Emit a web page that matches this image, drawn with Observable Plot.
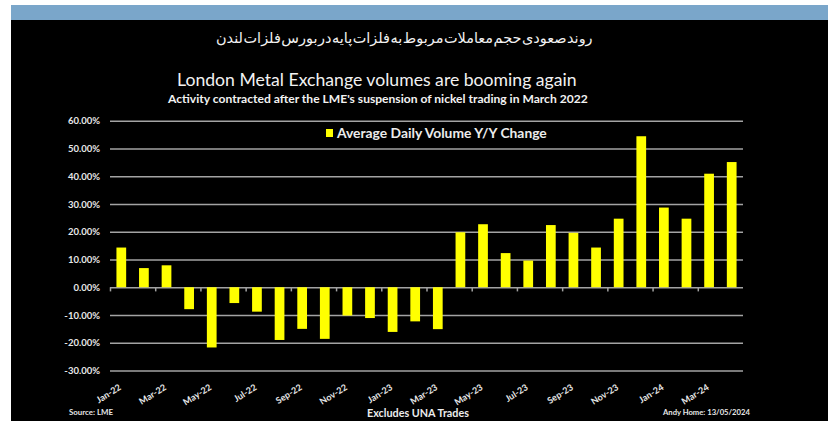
<!DOCTYPE html>
<html>
<head>
<meta charset="utf-8">
<script src="https://cdn.jsdelivr.net/npm/d3@7"></script>
<script src="https://cdn.jsdelivr.net/npm/@observablehq/plot@0.6"></script>
<style>
  html, body { margin: 0; padding: 0; background: #ffffff; }
  #card { position: absolute; left: 11px; top: 5px; width: 817px; height: 416px; background: #000; overflow: hidden; }
  #band { position: absolute; left: 0; top: 0; width: 817px; height: 15px; background: #7aa6ca; }
  .t { position: absolute; white-space: nowrap; line-height: 1; color: #f2f2f2; font-family: Lato, "Open Sans", sans-serif; }
  #chart { position: absolute; left: 0; top: 0; }
  #legsq { position: absolute; background: #ffff00; }
</style>
</head>
<body>
<div id="card">
  <div id="band"></div>
  <div id="chart"></div>
  <div id="legsq"></div>
  <span class="t" id="fa" dir="rtl" style="font-family: 'DejaVu Sans', 'Noto Sans', sans-serif; word-spacing: -0.28em;">روند صعودی حجم معاملات مربوط به فلزات پایه در بورس فلزات لندن</span>
  <span class="t" id="title" style="font-weight:400;">London Metal Exchange volumes are booming again</span>
  <span class="t" id="sub" style="font-weight:700;">Activity contracted after the LME's suspension of nickel trading in March 2022</span>
  <span class="t" id="leg" style="font-weight:700; color:#ececec;">Average Daily Volume Y/Y Change</span>
  <span class="t" id="src" style="font-weight:700; color:#e6e6e6;">Source: LME</span>
  <span class="t" id="una" style="font-weight:700; color:#ececec;">Excludes UNA Trades</span>
  <span class="t" id="auth" style="font-weight:700; color:#e6e6e6;">Andy Home: 13/05/2024</span>
</div>
<script>
// ---- data ----
const months = ["Jan-22","Feb-22","Mar-22","Apr-22","May-22","Jun-22","Jul-22","Aug-22","Sep-22","Oct-22","Nov-22","Dec-22",
                "Jan-23","Feb-23","Mar-23","Apr-23","May-23","Jun-23","Jul-23","Aug-23","Sep-23","Oct-23","Nov-23","Dec-23",
                "Jan-24","Feb-24","Mar-24","Apr-24"];
const yoyChange = [14.3, 6.9, 7.9, -7.9, -21.7, -5.7, -8.8, -19.0, -15.0, -18.6, -10.2, -11.1,
                   -16.1, -12.3, -15.1, 19.8, 22.7, 12.3, 9.6, 22.4, 19.6, 14.3, 24.7, 54.4,
                   28.7, 24.7, 40.9, 45.1];
const xTickLabels = ["Jan-22","Mar-22","May-22","Jul-22","Sep-22","Nov-22","Jan-23","Mar-23","May-23","Jul-23","Sep-23","Nov-23","Jan-24","Mar-24"];
const yTicks = [-30, -20, -10, 0, 10, 20, 30, 40, 50, 60];

const table = months.map((m, i) => ({month: m, value: yoyChange[i]}));

// ---- layout ----
const W = 817, H = 416, ML = 99, MR = 85, MT = 115.7, MB = 50.5;
const step = (W - ML - MR) / months.length;
const tickMonths = months.filter((m, i) => i % 2 === 0);
const gridColor = "#a3a3a3";
const labelColor = "#e8e8e8";

const chart = Plot.plot({
  width: W, height: H,
  marginLeft: ML, marginRight: MR, marginTop: MT, marginBottom: MB,
  style: { background: "transparent", overflow: "visible" },
  x: { type: "band", domain: months, paddingInner: 0.57, paddingOuter: 0.285, round: false, axis: null },
  y: { domain: [-30, 60], axis: null },
  marks: [
    Plot.ruleY(yTicks, { y: d => d, stroke: gridColor, strokeWidth: 1.6 }),
    Plot.barY(table, { x: "month", y: "value", fill: "#ffff00" }),
    Plot.ruleX(tickMonths, { x: d => d, y1: 0, y2: -1.5, dx: -step / 2, stroke: gridColor, strokeWidth: 1.5 }),
    Plot.text(yTicks, {
      y: d => d, frameAnchor: "left", dx: -10.5, textAnchor: "end",
      text: d => d.toFixed(2) + "%", fill: labelColor, fontSize: 9.5, fontWeight: 700,
      fontFamily: "Lato, sans-serif"
    }),
    Plot.text(xTickLabels, {
      x: d => d, frameAnchor: "bottom", dy: 18, dx: 0, rotate: -32, textAnchor: "end",
      text: d => d, fill: labelColor, fontSize: 9, fontWeight: 700, fontFamily: "Lato, sans-serif"
    })
  ]
});
document.getElementById("chart").appendChild(chart);

// ---- text placement (image coordinates, card offset 11,5) ----
const OX = 11, OY = 5;
const sq = document.getElementById("legsq");
sq.style.left = (326 - OX) + "px"; sq.style.top = (129 - OY) + "px";
sq.style.width = "7px"; sq.style.height = "7.5px";

const texts = [
  ["fa", 216, 593, 38.5],
  ["title", 177, 577, 80],
  ["sub", 168, 588, 99.5],
  ["leg", 337, 547, 133],
  ["src", 69, 113, 413],
  ["una", 367, 469, 413],
  ["auth", 663, 750, 413]
];
function fitAll() {
  for (const [id, x0, x1, cy] of texts) {
    const el = document.getElementById(id);
    el.style.fontSize = "20px";
    const w = el.getBoundingClientRect().width;
    const fs = 20 * (x1 - x0) / w;
    el.style.fontSize = fs + "px";
    const r = el.getBoundingClientRect();
    el.style.left = (x0 - OX) + "px";
    el.style.top = (cy - OY - r.height / 2) + "px";
  }
}
fitAll();
if (document.fonts && document.fonts.ready) document.fonts.ready.then(fitAll);
</script>
</body>
</html>
